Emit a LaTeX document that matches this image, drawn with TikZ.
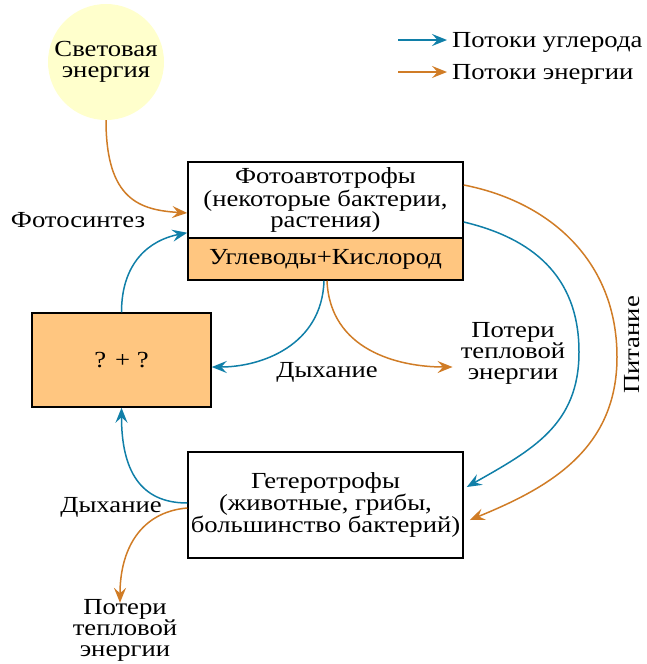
\documentclass[tikz,border=0pt]{standalone}
\usepackage{fontspec}
\setmainfont{Liberation Serif}[FakeStretch=1.16]
\usetikzlibrary{arrows.meta}
\definecolor{cflow}{RGB}{16,127,168}
\definecolor{eflow}{RGB}{208,124,38}
\definecolor{sunfill}{RGB}{255,255,204}
\definecolor{boxfill}{RGB}{255,198,128}

\begin{document}
\begin{tikzpicture}[x=1pt,y=-1pt]
    \tikzstyle{cedge} = [line width=1.5pt,-{Stealth[length=15pt,width=12pt,inset=5.5pt]},draw=cflow]
    \tikzstyle{eedge} = [line width=1.5pt,-{Stealth[length=15pt,width=12pt,inset=5.5pt]},draw=eflow]
    \tikzstyle{lbl}=[
      inner sep=0pt,
      align=center,
      font=\fontsize{23}{21}\selectfont,
    ]
    \tikzstyle{box}=[
      lbl,
      rectangle,
      draw=black,
      line width=1.5pt,
      minimum width=275,
    ]

    \useasboundingbox (0,0) rectangle (646,664);

    \node[lbl,circle,fill=sunfill,minimum size=116] (light) at (106,62) {Световая\\энергия};

    \node[box,minimum height=76] (photo) at (325.5,200) {Фотоавтотрофы\\(некоторые бактерии,\\растения)};
    \node[box,minimum height=42,fill=boxfill] (carb) at (325.5,259) {Углеводы+Кислород};
    \node[box,minimum width=179,minimum height=94,fill=boxfill] (sum) at (121.5,360) {? + ?};
    \node[box,minimum height=106] (hetero) at (325.5,505) {Гетеротрофы\\(животные, грибы,\\большинство бактерий)};

    \node[lbl,anchor=base] (synth) at (78,227) {Фотосинтез};
    \node[lbl,anchor=base] (resp1) at (327,377) {Дыхание};
    \node[lbl] (heat1) at (513,353) {Потери\\тепловой\\энергии};
    \node[lbl,rotate=90] (food) at (632,345) {Питание};
    \node[lbl,anchor=base] (resp2) at (111,512) {Дыхание};
    \node[lbl] (heat2) at (125,630) {Потери\\тепловой\\энергии};

    \coordinate (lc1) at (398,40);
    \coordinate (lc2) at (447,40);
    \coordinate (le1) at (398,72);
    \coordinate (le2) at (447,72);
    \node[lbl,anchor=base west] (ltxt1) at (452,47) {Потоки углерода};
    \node[lbl,anchor=base west] (ltxt2) at (452,79) {Потоки энергии};
    \draw[cedge] (lc1)--(lc2);
    \draw[eedge] (le1)--(le2);

    \draw[eedge] (light.south) .. controls (106,200) and (140,210) .. ([yshift=-13pt]photo.west);
    \draw[cedge] (sum.north) .. controls (121.5,262) and (150,240) .. ([yshift=6pt]photo.south west);

    \draw[cedge] ([xshift=-1.5pt]carb.south) .. controls (322,345) and (262,367) .. ([yshift=-7pt]sum.east);
    \draw[eedge] ([xshift=1.5pt]carb.south) .. controls (330,350) and (398,367) .. ([xshift=-8pt,yshift=-14pt]heat1.west);

    \draw[cedge] ([yshift=-22pt]photo.east) .. controls (531,238) and (579,275) .. (579,352)
      .. controls (579,425) and (532,450) .. ([xshift=3pt,yshift=18pt]hetero.east);
    \draw[eedge] ([yshift=15pt]photo.east) .. controls (551,202) and (617,262) .. (617,357)
      .. controls (617,450) and (548,488) .. ([xshift=6pt,yshift=-15pt]hetero.east);

    \draw[cedge] ([yshift=2pt]hetero.west) .. controls (140,503) and (121.5,470) .. (sum.south);
    \draw[eedge] ([yshift=-3pt]hetero.west) .. controls (140,512) and (120,550) .. ([xshift=-5pt,yshift=-4pt]heat2.north);
  \end{tikzpicture}
\end{document}
